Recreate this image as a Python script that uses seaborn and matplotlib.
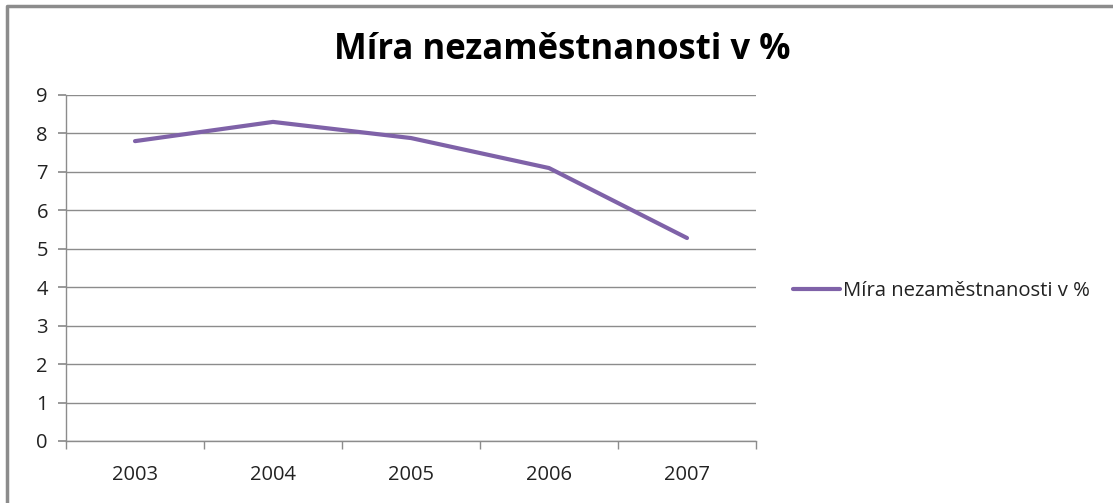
import seaborn as sns
import matplotlib
import matplotlib.pyplot as plt
import pandas as pd
from matplotlib.lines import Line2D

matplotlib.use('Agg')

# data
years = ['2003', '2004', '2005', '2006', '2007']
unemployment = [7.8, 8.3, 7.88, 7.1, 5.28]
series_name = 'Míra nezaměstnanosti v %'

df = pd.DataFrame({'rok': years, 'hodnota': unemployment})

sns.set_theme(style='white')
plt.rcParams['font.family'] = ['Open Sans', 'DejaVu Sans']

fig = plt.figure(figsize=(11.13, 5.03), dpi=100)
ax = fig.add_axes([66 / 1113, 1 - 441 / 503, 690 / 1113, 346 / 503])

sns.lineplot(data=df, x='rok', y='hodnota', color='#7F62A8', linewidth=3,
             ax=ax, label=series_name, legend=False)

ax.set_xlim(-0.5, 4.5)
ax.set_ylim(0, 9)
ax.set_yticks(range(0, 10))
ax.grid(axis='y', color='#8c8c8c', linewidth=1)
ax.set_axisbelow(True)
ax.set_xlabel('')
ax.set_ylabel('')

for side in ['top', 'right']:
    ax.spines[side].set_visible(False)
for side in ['left', 'bottom']:
    ax.spines[side].set_color('#8c8c8c')
    ax.spines[side].set_linewidth(1)

ax.set_xticks([-0.5, 0.5, 1.5, 2.5, 3.5, 4.5], minor=True)
ax.tick_params(axis='x', which='major', length=0, pad=17, labelsize=14.5, colors='#222222')
ax.tick_params(axis='x', which='minor', length=6, color='#8c8c8c', direction='out')
ax.tick_params(axis='y', length=6, color='#8c8c8c', direction='out', pad=7,
               labelsize=14.5, colors='#222222')
ax.tick_params(axis='x', which='minor', bottom=True)
ax.tick_params(axis='y', left=True)

fig.text(0.505, 0.9, series_name, ha='center', va='center',
         fontsize=25, fontweight='bold', color='black')

handle = Line2D([], [], color='#7F62A8', linewidth=3)
fig.legend([handle], [series_name], loc='center left',
           bbox_to_anchor=(775 / 1113, 1 - 291 / 503), frameon=False,
           fontsize=14.6, handlelength=2.3, handletextpad=0.15,
           labelcolor='#222222')

# outer chart frame (top and left edges visible)
fig.add_artist(Line2D([7 / 1113, 7 / 1113, 1], [0, 1 - 6 / 503, 1 - 6 / 503],
                      transform=fig.transFigure, color='#8c8c8c', linewidth=2.5))

fig.savefig('out.png', dpi=100)
